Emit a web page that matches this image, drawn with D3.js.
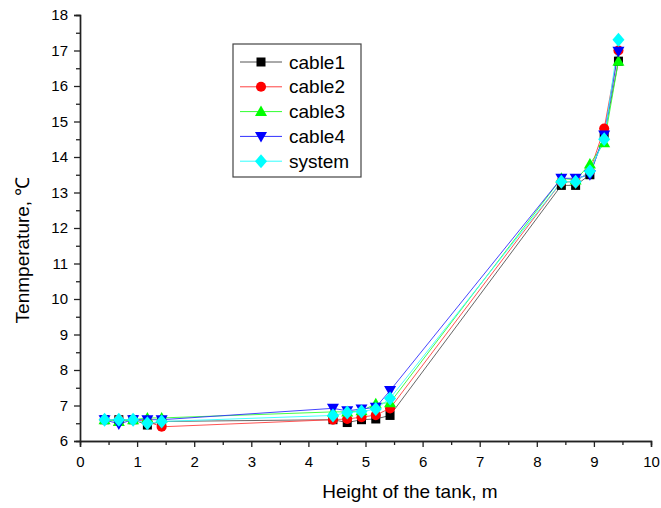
<!DOCTYPE html>
<html><head><meta charset="utf-8">
<script src="https://cdn.jsdelivr.net/npm/d3@7"></script>
<style>body{margin:0;background:#fff}svg{display:block}text{font-family:Arial,"Liberation Sans",sans-serif;fill:#000}</style>
</head><body><svg id="c" width="661" height="508"></svg>
<script>
const heights = [0.43,0.68,0.93,1.18,1.43, 4.43,4.68,4.93,5.18,5.43, 8.43,8.68,8.93,9.18,9.43];
const cable1 = [6.6,6.6,6.6,6.45,6.55, 6.6,6.52,6.6,6.62,6.72, 13.2,13.2,13.5,14.6,16.7];
const cable2 = [6.6,6.6,6.6,6.55,6.4, 6.6,6.62,6.67,6.73,6.92, 13.3,13.3,13.6,14.8,17.0];
const cable3 = [6.6,6.55,6.6,6.65,6.65, 6.82,6.82,6.85,7.05,7.08, 13.4,13.35,13.8,14.4,16.7];
const cable4 = [6.6,6.48,6.6,6.6,6.6, 6.92,6.85,6.9,6.95,7.42, 13.4,13.4,13.5,14.62,16.98];
const system = [6.6,6.6,6.6,6.5,6.55, 6.72,6.8,6.83,6.9,7.2, 13.3,13.3,13.6,14.5,17.3];
const seriesNames = ["cable1","cable2","cable3","cable4","system"];
const seriesValues = [cable1,cable2,cable3,cable4,system];
const seriesColors = ["#000000","#ff0000","#00ff00","#0000ff","#00ffff"];
const lineColors = ["#555555","#ff4040","#30ff30","#3030ff","#30ffff"];
const seriesShapes = ["square","circle","triangle","triangleDown","diamond"];
const xTicks = [0,1,2,3,4,5,6,7,8,9,10];
const yTicks = [6,7,8,9,10,11,12,13,14,15,16,17,18];
const xTitle = "Height of the tank, m";
const yTitle = "Tenmperature, ℃";

const svg = d3.select("#c");
const x = d3.scaleLinear().domain([0,10]).range([80,651]);
const y = d3.scaleLinear().domain([6,18]).range([441,15]);

function shapePath(s){
  if(s==="square") return "M-4.5,-4.5H4.5V4.5H-4.5Z";
  if(s==="circle") return d3.symbol(d3.symbolCircle, 80)();
  if(s==="triangle") return "M0,-6L6,4.5L-6,4.5Z";
  if(s==="triangleDown") return "M0,6L6,-4.5L-6,-4.5Z";
  if(s==="diamond") return "M0,-7L6,0L0,7L-6,0Z";
}

// axes
const xAxis = d3.axisBottom(x).tickValues(xTicks).tickSize(6).tickPadding(9).tickFormat(d3.format("d"));
const xMinor = d3.axisBottom(x).tickValues(d3.range(0.5,10,1)).tickSize(4).tickFormat("");
const yAxis = d3.axisLeft(y).tickValues(yTicks).tickSize(6).tickPadding(6).tickFormat(d3.format("d"));
const yMinor = d3.axisLeft(y).tickValues(d3.range(6.5,18,1)).tickSize(4).tickFormat("");

function styleAxis(g){
  g.select(".domain").attr("stroke","#222").attr("stroke-width",1.4);
  g.selectAll(".tick line").attr("stroke","#222").attr("stroke-width",1.3);
  g.selectAll(".tick text").style("font-size","15px").style("font-family","Arial, 'Liberation Sans', sans-serif").attr("fill","#111");
}
svg.append("g").attr("transform","translate(0,441)").call(xMinor).call(styleAxis);
svg.append("g").attr("transform","translate(0,441)").call(xAxis).call(styleAxis);
svg.append("g").attr("transform","translate(80,0)").call(yMinor).call(styleAxis);
svg.append("g").attr("transform","translate(80,0)").call(yAxis).call(styleAxis);

svg.append("text").attr("x",410).attr("y",498).attr("text-anchor","middle").style("font-size","19px").text(xTitle);
svg.append("text").attr("transform","translate(29,250) rotate(-90)").attr("text-anchor","middle").style("font-size","19px").text(yTitle);

// lines
const line = d3.line().x((d,i)=>x(heights[i])).y(d=>y(d));
seriesValues.forEach((vals,k)=>{
  svg.append("path").datum(vals).attr("d",line).attr("fill","none").attr("stroke",lineColors[k]).attr("stroke-width",0.9);
});
// markers
seriesValues.forEach((vals,k)=>{
  svg.append("g").selectAll("path").data(vals).join("path")
    .attr("d",shapePath(seriesShapes[k]))
    .attr("transform",(d,i)=>`translate(${x(heights[i])},${y(d)})`)
    .attr("fill",seriesColors[k]);
});

// legend
const lg = svg.append("g");
lg.append("rect").attr("x",233).attr("y",44).attr("width",128).attr("height",133).attr("fill","#fff").attr("stroke","#444").attr("stroke-width",1.2);
seriesNames.forEach((n,k)=>{
  const yy = 62 + k*24.8;
  lg.append("line").attr("x1",240).attr("x2",282).attr("y1",yy).attr("y2",yy).attr("stroke",lineColors[k]).attr("stroke-width",1);
  lg.append("path").attr("d",shapePath(seriesShapes[k])).attr("transform",`translate(261,${yy})`).attr("fill",seriesColors[k]);
  lg.append("text").attr("x",289).attr("y",yy+6.5).style("font-size","19px").text(n);
});
</script></body></html>
